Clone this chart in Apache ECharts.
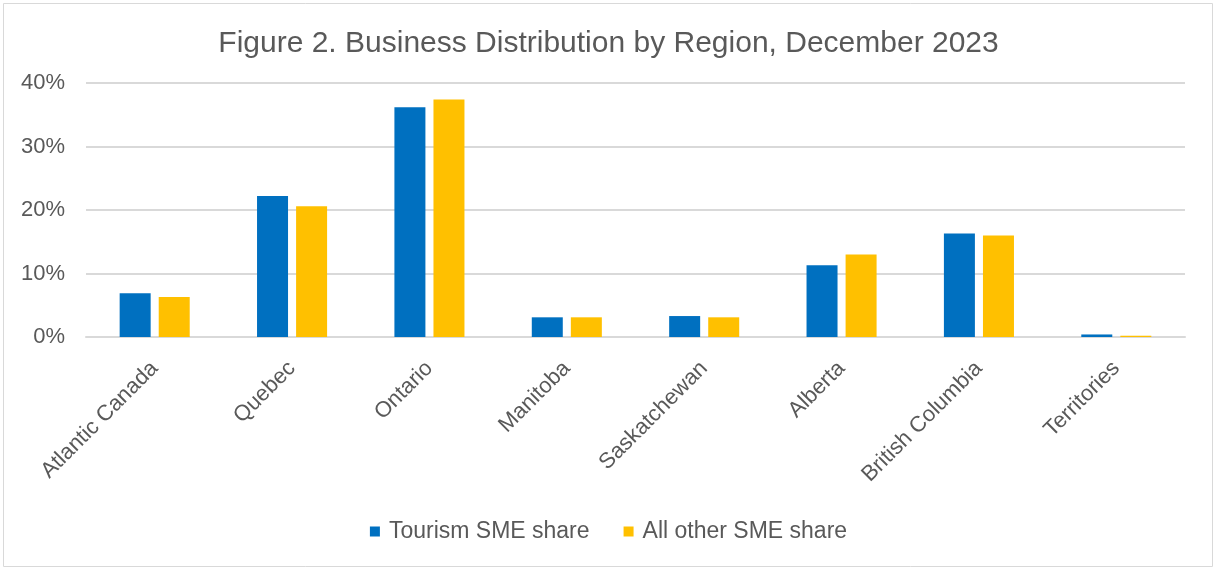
<!DOCTYPE html>
<html>
<head>
<meta charset="utf-8">
<script src="https://cdn.jsdelivr.net/npm/echarts@6/dist/echarts.min.js"></script>
<style>
html, body { margin: 0; padding: 0; background: #fff; }
#chart { width: 1217px; height: 571px; }
</style>
</head>
<body>
<div id="chart"></div>
<script>
// regions and shares (%)
var regions = ['Atlantic Canada', 'Quebec', 'Ontario', 'Manitoba', 'Saskatchewan', 'Alberta', 'British Columbia', 'Territories'];
var tourismShare = [6.9, 22.2, 36.2, 3.1, 3.3, 11.3, 16.3, 0.4];
var otherShare = [6.3, 20.6, 37.4, 3.1, 3.1, 13.0, 16.0, 0.2];
var seriesNames = ['Tourism SME share', 'All other SME share'];

var FONT = '"Liberation Sans", Arial, sans-serif';

var myCharts = echarts.init(document.getElementById('chart'));
var option = {
    animation: false,
    color: ['#0070C0', '#FFC000'],
    title: {
        text: 'Figure 2. Business Distribution by Region, December 2023',
        left: 'center',
        top: 24,
        textStyle: { fontFamily: FONT, fontSize: 30, fontWeight: 'normal', color: '#595959' }
    },
    legend: {
        data: seriesNames,
        bottom: 23,
        left: 'center',
        icon: 'rect',
        itemWidth: 10,
        itemHeight: 10,
        itemGap: 34,
        textStyle: { fontFamily: FONT, fontSize: 23, color: '#595959', padding: [0, 0, 0, 4] }
    },
    graphic: [{
        type: 'rect',
        shape: { x: 3.5, y: 3.5, width: 1209, height: 563 },
        style: { fill: null, stroke: '#d9d9d9', lineWidth: 1 },
        silent: true
    }],
    grid: {
        left: 86,
        right: 32,
        top: 83,
        height: 254,
        containLabel: false
    },
    xAxis: {
        type: 'category',
        data: regions,
        axisTick: { show: false },
        axisLine: { show: true, lineStyle: { color: '#d9d9d9', width: 2 } },
        axisLabel: {
            rotate: 45,
            interval: 0,
            margin: 28,
            fontFamily: FONT,
            fontSize: 22,
            color: '#595959'
        }
    },
    yAxis: {
        type: 'value',
        min: 0,
        max: 40,
        interval: 10,
        axisLine: { show: false },
        axisTick: { show: false },
        splitLine: { lineStyle: { color: '#d9d9d9', width: 2 } },
        axisLabel: {
            formatter: '{value}%',
            margin: 21,
            fontFamily: FONT,
            fontSize: 22,
            color: '#595959'
        }
    },
    series: [
        {
            name: seriesNames[0],
            type: 'bar',
            barWidth: 31,
            barGap: '26%',
            data: tourismShare
        },
        {
            name: seriesNames[1],
            type: 'bar',
            barWidth: 31,
            data: otherShare
        }
    ]
};
myCharts.setOption(option);
</script>
</body>
</html>
